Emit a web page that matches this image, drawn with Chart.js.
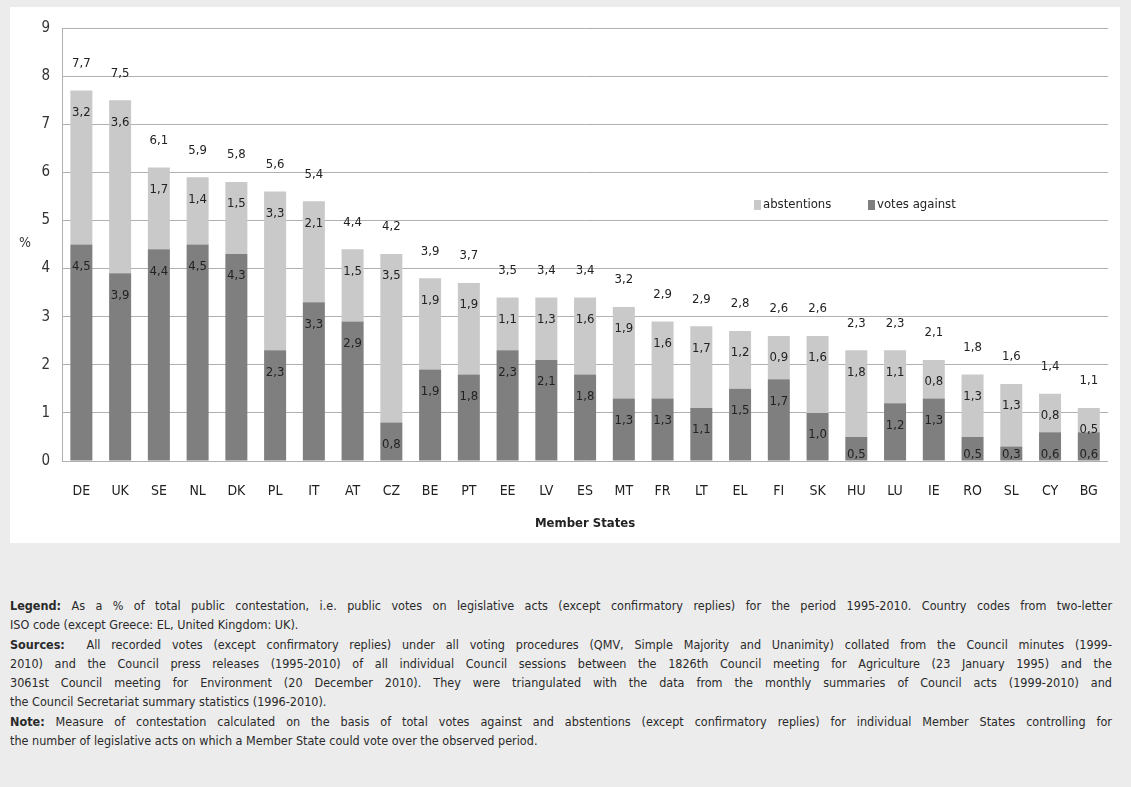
<!DOCTYPE html>
<html>
<head>
<meta charset="utf-8">
<script src="https://cdn.jsdelivr.net/npm/chart.js@4.4.0/dist/chart.umd.min.js"></script>
<style>
  body { margin: 0; background: #ececec; width: 1131px; height: 787px; overflow: hidden; }
  #panel { position: absolute; left: 10px; top: 7px; width: 1110px; height: 536px; background: #fff; }
  #notes { position: absolute; left: 10px; top: 596px; width: 1102px;
    font-family: "Liberation Sans Narrow", "DejaVu Sans Condensed", "Liberation Sans", sans-serif;
    font-size: 12.5px; line-height: 19.3px; color: #2a2a2a; }
  #notes div { white-space: nowrap; }
  #notes b { font-weight: bold; }
</style>
</head>
<body>
<div id="panel"><canvas id="chart" width="1110" height="536"></canvas></div>
<div id="notes">
  <div class="full"><b>Legend:</b> As a % of total public contestation, i.e. public votes on legislative acts (except confirmatory replies) for the period 1995-2010. Country codes from two-letter</div>
  <div>ISO code (except Greece: EL, United Kingdom: UK).</div>
  <div class="full"><b>Sources:</b>&nbsp; All recorded votes (except confirmatory replies) under all voting procedures (QMV, Simple Majority and Unanimity) collated from the Council minutes (1999-</div>
  <div class="full">2010) and the Council press releases (1995-2010) of all individual Council sessions between the 1826th Council meeting for Agriculture (23 January 1995) and the</div>
  <div class="full">3061st Council meeting for Environment (20 December 2010). They were triangulated with the data from the monthly summaries of Council acts (1999-2010) and</div>
  <div>the Council Secretariat summary statistics (1996-2010).</div>
  <div class="full"><b>Note:</b> Measure of contestation calculated on the basis of total votes against and abstentions (except confirmatory replies) for individual Member States controlling for</div>
  <div>the number of legislative acts on which a Member State could vote over the observed period.</div>
</div>
<script>
// data
const states = ['DE', 'UK', 'SE', 'NL', 'DK', 'PL', 'IT', 'AT', 'CZ', 'BE', 'PT', 'EE', 'LV', 'ES',
  'MT', 'FR', 'LT', 'EL', 'FI', 'SK', 'HU', 'LU', 'IE', 'RO', 'SL', 'CY', 'BG'];
const votesAgainst = [4.5, 3.9, 4.4, 4.5, 4.3, 2.3, 3.3, 2.9, 0.8, 1.9, 1.8, 2.3, 2.1, 1.8,
  1.3, 1.3, 1.1, 1.5, 1.7, 1.0, 0.5, 1.2, 1.3, 0.5, 0.3, 0.6, 0.6];
const abstentions = [3.2, 3.6, 1.7, 1.4, 1.5, 3.3, 2.1, 1.5, 3.5, 1.9, 1.9, 1.1, 1.3, 1.6,
  1.9, 1.6, 1.7, 1.2, 0.9, 1.6, 1.8, 1.1, 0.8, 1.3, 1.3, 0.8, 0.5];
// totals as printed above the bars
const totals = [7.7, 7.5, 6.1, 5.9, 5.8, 5.6, 5.4, 4.4, 4.2, 3.9, 3.7, 3.5, 3.4, 3.4,
  3.2, 2.9, 2.9, 2.8, 2.6, 2.6, 2.3, 2.3, 2.1, 1.8, 1.6, 1.4, 1.1];
const yTicks = [0, 1, 2, 3, 4, 5, 6, 7, 8, 9];

const FONT = '"Liberation Sans Narrow", "DejaVu Sans Condensed", "Liberation Sans", sans-serif';
const DARK = '#7f7f7f';
const LIGHT = '#c9c9c9';
const GRID = '#b0b0b0';

// stretch the full lines of the notes to the box width, measuring the real text extent
function fitNotes() {
  document.querySelectorAll('#notes .full').forEach(function (el) {
    const gaps = (el.textContent.trim().match(/\s+/g) || []).length;
    const range = document.createRange();
    let ws = 0;
    for (let k = 0; k < 6; k++) {
      el.style.wordSpacing = ws + 'px';
      range.selectNodeContents(el);
      const box = el.getBoundingClientRect();
      const text = range.getBoundingClientRect();
      ws += (box.left + 1102 - text.right) / gaps;
    }
    el.style.wordSpacing = ws + 'px';
  });
}
fitNotes();
document.fonts.ready.then(fitNotes);

function fmt(v) {
  return v.toFixed(1).replace('.', ',');
}

// value labels, "%" and the legend inside the plot
const labelPlugin = {
  id: 'labels',
  afterDatasetsDraw(chart) {
    const ctx = chart.ctx;
    const base = chart.scales.y.getPixelForValue(0);
    ctx.save();
    ctx.fillStyle = '#222';
    ctx.font = '13px ' + FONT;
    ctx.textAlign = 'center';
    ctx.textBaseline = 'middle';
    [0, 1].forEach(function (d) {
      const meta = chart.getDatasetMeta(d);
      meta.data.forEach(function (bar, i) {
        let y = bar.y + 22;
        if (d === 0) y = Math.min(y, base - 6);  // keep small segments' labels above the axis
        ctx.fillText(fmt(chart.data.datasets[d].data[i]), bar.x, y);
      });
    });
    const top = chart.getDatasetMeta(1);
    top.data.forEach(function (bar, i) {
      ctx.fillText(fmt(totals[i]), bar.x, bar.y - 27);
    });

    // % label
    ctx.font = '14px ' + FONT;
    ctx.fillStyle = '#333';
    ctx.fillText('%', 15, 236);

    // legend
    ctx.font = '13px ' + FONT;
    ctx.textAlign = 'left';
    ctx.fillStyle = LIGHT;
    ctx.fillRect(744, 193, 7, 10);
    ctx.fillStyle = '#222';
    ctx.fillText('abstentions', 753, 198);
    ctx.fillStyle = DARK;
    ctx.fillRect(858, 193, 7, 10);
    ctx.fillStyle = '#222';
    ctx.fillText('votes against', 867, 198);
    ctx.restore();
  }
};

new Chart(document.getElementById('chart'), {
  type: 'bar',
  data: {
    labels: states,
    datasets: [
      { label: 'votes against', data: votesAgainst, backgroundColor: DARK },
      { label: 'abstentions', data: abstentions, backgroundColor: LIGHT }
    ]
  },
  options: {
    responsive: false,
    devicePixelRatio: 1,
    animation: false,
    layout: { padding: { top: 15, right: 7, left: 0, bottom: 0 } },
    datasets: { bar: { categoryPercentage: 0.8, barPercentage: 0.71 } },
    plugins: { legend: { display: false }, tooltip: { enabled: false } },
    scales: {
      x: {
        stacked: true,
        grid: { display: false, drawTicks: false },
        border: { display: false },
        ticks: { color: '#222', font: { family: FONT, size: 14 }, padding: 22 },
        title: { display: true, text: 'Member States', color: '#222',
          font: { family: FONT, size: 13, weight: 'bold' }, padding: { top: 4, bottom: 12 } },
        afterFit(scale) { scale.height = 82; }
      },
      y: {
        stacked: true,
        min: 0,
        max: 9,
        afterBuildTicks(scale) { scale.ticks = yTicks.map(function (v) { return { value: v }; }); },
        grid: { color: GRID, drawTicks: false },
        border: { display: true, color: GRID },
        ticks: { color: '#333', font: { family: FONT, size: 15 }, padding: 12 },
        afterFit(scale) { scale.width = 52; }
      }
    }
  },
  plugins: [labelPlugin]
});
</script>
</body>
</html>
